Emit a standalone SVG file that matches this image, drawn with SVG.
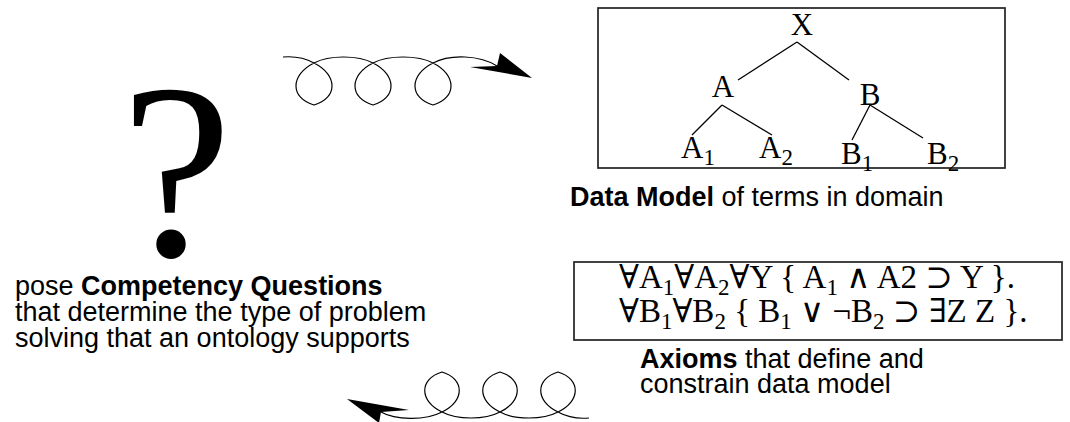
<svg xmlns="http://www.w3.org/2000/svg" width="1070" height="422" viewBox="0 0 1070 422">
<style>
.sans{font-family:"Liberation Sans",Arial,sans-serif;font-size:27px;fill:#000}
.serif{font-family:"Liberation Serif","DejaVu Serif",serif;fill:#000}
.tree{font-size:31px}
.tsub{font-size:23px}
.ax{font-size:33px}
.asub{font-size:23px}
.box{fill:none;stroke:#222;stroke-width:1.7}
.edge{stroke:#000;stroke-width:1.3;fill:none}
.curl{fill:none;stroke:#000;stroke-width:1.2}
.head{fill:#000;stroke:none}
</style>
<rect width="1070" height="422" fill="#fff"/>

<g id="question">
<text class="serif" x="121" y="255" font-size="250">?</text>
<text class="sans" x="15" y="295">pose <tspan font-weight="bold">Competency Questions</tspan></text>
<text class="sans" x="15" y="321">that determine the type of problem</text>
<text class="sans" x="15" y="347">solving that an ontology supports</text>
</g>

<g id="data-model">
<rect class="box" x="598" y="8" width="407" height="160"/>
<text class="sans" x="570" y="206"><tspan font-weight="bold">Data Model</tspan> of terms in domain</text>
</g>
<g id="node-X"><text class="serif tree" x="802" y="35" text-anchor="middle">X</text></g>
<g id="node-A"><text class="serif tree" x="723" y="97" text-anchor="middle">A</text></g>
<g id="node-B"><text class="serif tree" x="870" y="105" text-anchor="middle">B</text></g>
<g id="node-A1"><text class="serif tree" x="681" y="158">A<tspan class="tsub" dy="7">1</tspan></text></g>
<g id="node-A2"><text class="serif tree" x="759" y="158">A<tspan class="tsub" dy="7">2</tspan></text></g>
<g id="node-B1"><text class="serif tree" x="841" y="164">B<tspan class="tsub" dy="7">1</tspan></text></g>
<g id="node-B2"><text class="serif tree" x="927" y="164">B<tspan class="tsub" dy="7">2</tspan></text></g>

<g id="axioms">
<rect class="box" x="574" y="262" width="488" height="78"/>
<text class="serif ax" x="619" y="288">∀A<tspan class="asub" dy="7">1</tspan><tspan dy="-7">∀A</tspan><tspan class="asub" dy="7">2</tspan><tspan dy="-7">∀Y { A</tspan><tspan class="asub" dy="7">1</tspan><tspan dy="-7"> ∧ A2 ⊃ Y }.</tspan></text>
<text class="serif ax" x="619" y="322">∀B<tspan class="asub" dy="7">1</tspan><tspan dy="-7">∀B</tspan><tspan class="asub" dy="7">2</tspan><tspan dy="-7"> { B</tspan><tspan class="asub" dy="7">1</tspan><tspan dy="-7"> ∨ ¬B</tspan><tspan class="asub" dy="7">2</tspan><tspan dy="-7"> ⊃ ∃Z Z }.</tspan></text>
<text class="sans" x="640" y="368"><tspan font-weight="bold">Axioms</tspan> that define and</text>
<text class="sans" x="640" y="393">constrain data model</text>
</g>

<g id="connectors">
<line class="edge" x1="797" y1="42" x2="738" y2="80"/>
<line class="edge" x1="797" y1="42" x2="849" y2="80"/>
<line class="edge" x1="722" y1="105" x2="692" y2="135"/>
<line class="edge" x1="722" y1="105" x2="772" y2="135"/>
<line class="edge" x1="870" y1="105" x2="852" y2="140"/>
<line class="edge" x1="870" y1="105" x2="923" y2="138"/>
<path class="curl" d="M283,57 C295,56 305,58 314,63 C338,75 338,98 314,105 C290,98 290,75 314,63 C329,55 358,55 373,63 C397,75 397,98 373,105 C349,98 349,75 373,63 C388,55 418,55 433,63 C457,75 457,98 433,105 C409,98 409,75 433,63 C450,54 480,55 497,66"/>
<polygon class="head" points="500,53 532,78 470,67 497,66"/>
<path class="curl" d="M589,418 C577,419 567,417 558,412 C535,401 535,379 558,372 C581,379 581,401 558,412 C543,420 515,420 500,412 C477,401 477,379 500,372 C523,379 523,401 500,412 C485,420 457,420 442,412 C419,401 419,379 442,372 C465,379 465,401 442,412 C425,421 395,420 381,412"/>
<polygon class="head" points="379,423 347,399 409,410 381,412"/>
</g>
</svg>
